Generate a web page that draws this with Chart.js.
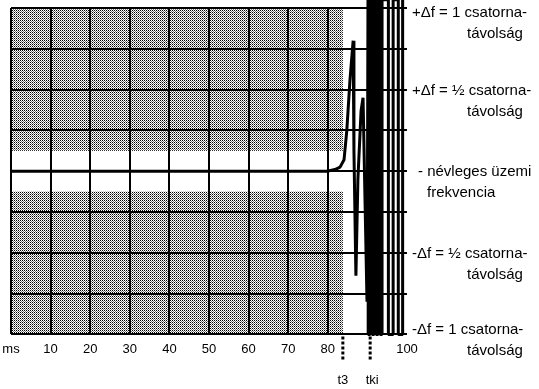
<!DOCTYPE html>
<html>
<head>
<meta charset="utf-8">
<script src="https://cdn.jsdelivr.net/npm/chart.js@4"></script>
<style>
  html, body { margin: 0; background: #fff; }
  #wrap { width: 539px; height: 389px; }
</style>
</head>
<body>
<div id="wrap"><canvas id="freqChart"></canvas></div>
<script>
// time axis (ms) and its labels
const xTickValues = [0, 10, 20, 30, 40, 50, 60, 70, 80, 90, 100];
const xTickLabels = ['ms', '10', '20', '30', '40', '50', '60', '70', '80', '', '100'];

// frequency deviation, in channel spacings
const transientMs  = [0, 78, 79.8, 81.8, 83.1, 84.1, 84.8, 85.6, 86.4, 86.6, 87.1, 87.6, 88.4, 88.9, 89.4, 89.9, 90.2];
const transientDev = [0, 0, 0, 0.01, 0.025, 0.07, 0.25, 0.56, 0.8, 0.13, -0.64, -0.05, 0.37, 0.45, -0.18, -0.8, 1.05];

// free-running oscillation after switch-off (swings beyond the recorder range)
const ringMs  = [90.2, 90.2, 90.7, 90.7, 91.2, 91.2, 91.7, 91.7, 92.2, 92.2, 92.7, 92.7, 93.2, 93.2, 93.7, 93.7,
                 95.3, 95.3, 96.5, 96.5, 97.8, 97.8, 98.9, 98.9];
const ringDev = [1.05, -1, -1, 1.05, 1.05, -1, -1, 1.05, 1.05, -1, -1, 1.05, 1.05, -1, -1, 1.05,
                 1.05, -1, -1, 1.05, 1.05, -1, -1, 1.05];

const t3 = 83.8;
const tki = 90.7;
const toleranceBand = 0.125;

const levelValues = [1, 0.5, 0, -0.5, -1];
const levelLabels = [
  ['+\u0394f = 1 csatorna-', 'távolság'],
  ['+\u0394f = \u00bd csatorna-', 'távolság'],
  ['- névleges üzemi', 'frekvencia'],
  ['-\u0394f = \u00bd csatorna-', 'távolság'],
  ['-\u0394f = 1 csatorna-', 'távolság']
];
const markerLabels = ['t3', 'tki'];

const FAMILY = '"Liberation Sans", Arial, sans-serif';

function makeStipple(ctx) {
  const c = document.createElement('canvas');
  c.width = 2; c.height = 2;
  const p = c.getContext('2d');
  p.fillStyle = '#fff'; p.fillRect(0, 0, 2, 2);
  p.fillStyle = '#000'; p.fillRect(0, 0, 1, 1);
  p.fillStyle = '#777'; p.fillRect(1, 1, 1, 1);
  return ctx.createPattern(c, 'repeat');
}

const backdrop = {
  id: 'backdrop',
  beforeDraw(chart) {
    const { ctx, scales: { x, y } } = chart;
    const left = x.getPixelForValue(0), right = x.getPixelForValue(t3);
    ctx.save();
    ctx.fillStyle = makeStipple(ctx);
    let top = y.getPixelForValue(1), bot = y.getPixelForValue(toleranceBand);
    ctx.fillRect(left, top, right - left, bot - top);
    top = y.getPixelForValue(-toleranceBand); bot = y.getPixelForValue(-1);
    ctx.fillRect(left, top, right - left, bot - top);
    ctx.restore();
  }
};

const annotations = {
  id: 'annotations',
  afterDraw(chart) {
    const { ctx, chartArea, scales: { x, y } } = chart;
    ctx.save();
    ctx.fillStyle = '#000';
    ctx.textBaseline = 'middle';
    ctx.textAlign = 'left';
    ctx.font = '15px ' + FAMILY;
    const lx = chartArea.right + 5;
    levelValues.forEach((v, i) => {
      let py = y.getPixelForValue(v) + 1;
      py = Math.min(Math.max(py, 13), 330);
      const lines = levelLabels[i];
      ctx.fillText(lines[0], v === 0 ? lx + 6 : lx, py);
      ctx.fillText(lines[1], lx + (v === 0 ? 15 : 55), py + 21);
    });

    ctx.strokeStyle = '#000';
    ctx.lineWidth = 3;
    ctx.setLineDash([3, 2]);
    ctx.textAlign = 'center';
    ctx.font = '13px ' + FAMILY;
    [t3, tki].forEach((t, i) => {
      const px = x.getPixelForValue(t);
      ctx.beginPath();
      ctx.moveTo(px, chartArea.bottom + 2);
      ctx.lineTo(px, chartArea.bottom + 27);
      ctx.stroke();
      ctx.fillText(markerLabels[i], px + (i ? 2 : 0), chartArea.bottom + 46);
    });
    ctx.restore();
  }
};

const toPoints = (xs, ys) => xs.map((t, i) => ({ x: t, y: ys[i] }));

new Chart(document.getElementById('freqChart'), {
  type: 'line',
  data: {
    datasets: [{
      label: 'transient',
      data: toPoints(transientMs, transientDev),
      borderColor: '#000',
      borderWidth: 3,
      borderJoinStyle: 'bevel',
      pointRadius: 0,
      tension: 0,
      clip: false
    }, {
      label: 'ringing',
      data: toPoints(ringMs, ringDev),
      borderColor: '#000',
      borderWidth: 3,
      borderJoinStyle: 'bevel',
      pointRadius: 0,
      tension: 0,
      clip: false
    }]
  },
  options: {
    responsive: true,
    maintainAspectRatio: false,
    animation: false,
    layout: { padding: { left: 11, top: 8, right: 132, bottom: 25 } },
    plugins: {
      legend: { display: false },
      tooltip: { enabled: false }
    },
    scales: {
      x: {
        type: 'linear',
        min: 0,
        max: 100,
        border: { display: false },
        afterFit: s => { s.paddingLeft = 0; s.paddingRight = 0; },
        grid: {
          drawTicks: false,
          lineWidth: 2,
          color: c => (c.tick && c.tick.value >= 90) ? 'rgba(0,0,0,0)' : '#000'
        },
        ticks: {
          stepSize: 10,
          autoSkip: false,
          maxRotation: 0,
          padding: 7,
          color: '#000',
          font: { family: FAMILY, size: 13 },
          callback: v => {
            const i = xTickValues.indexOf(v);
            return i < 0 ? '' : xTickLabels[i];
          }
        }
      },
      y: {
        min: -1,
        max: 1,
        border: { display: false },
        grid: { drawTicks: false, lineWidth: 2, color: '#000' },
        ticks: { stepSize: 0.25, display: false }
      }
    }
  },
  plugins: [backdrop, annotations]
});
</script>
</body>
</html>
